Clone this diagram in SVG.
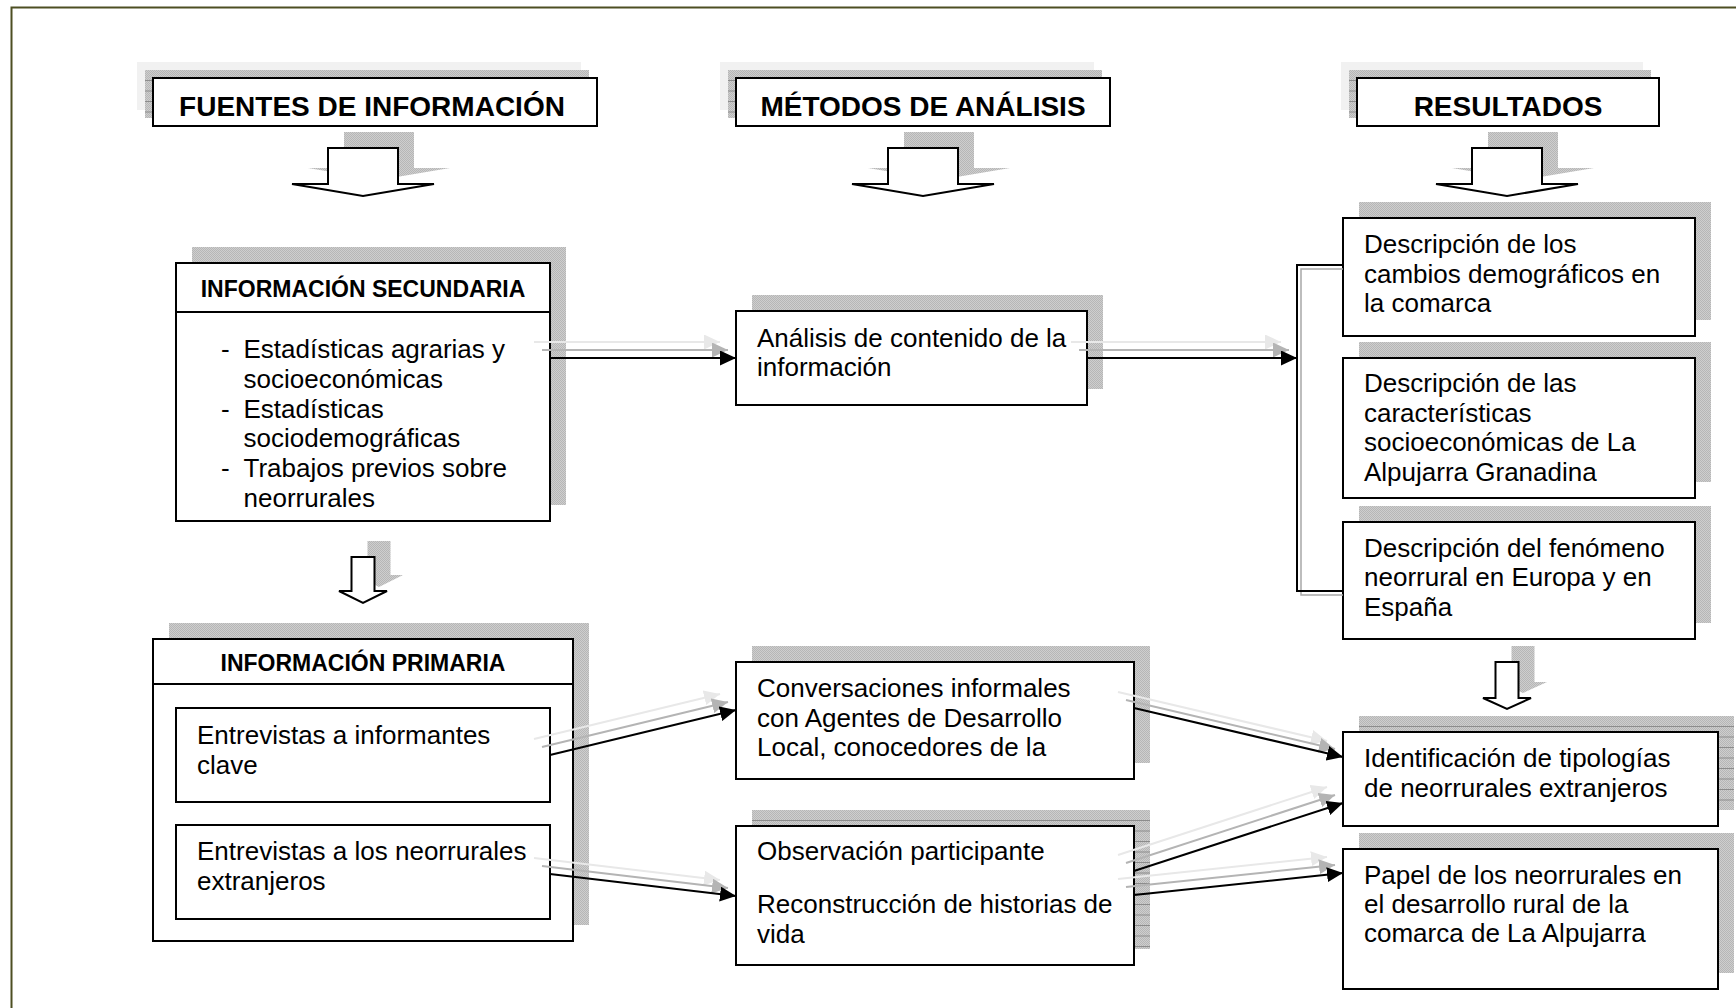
<svg xmlns="http://www.w3.org/2000/svg" width="1736" height="1008" viewBox="0 0 1736 1008">
<defs>
<pattern id="tex" width="2" height="2" patternUnits="userSpaceOnUse"><rect width="2" height="2" fill="#cecece"/><rect width="1" height="1" fill="#b6b6b6"/><rect x="1" y="1" width="1" height="1" fill="#b6b6b6"/></pattern>
<marker id="mB" markerUnits="userSpaceOnUse" markerWidth="17" markerHeight="15" refX="16" refY="7.5" orient="auto"><path d="M0,0 L16,7.5 L0,15 Z" fill="#000"/></marker>
<marker id="mG" markerUnits="userSpaceOnUse" markerWidth="17" markerHeight="15" refX="16" refY="7.5" orient="auto"><path d="M0,0 L16,7.5 L0,15 Z" fill="#b4b4b4"/></marker>
<marker id="mL" markerUnits="userSpaceOnUse" markerWidth="17" markerHeight="15" refX="16" refY="7.5" orient="auto"><path d="M0,0 L16,7.5 L0,15 Z" fill="#e8e8e8"/></marker>
</defs>
<style>
.box{fill:#fff;stroke:#000;stroke-width:2}
.sh{fill:url(#tex)}
.lt{fill:#f1f1f1}
.rule{stroke:#8c8c8c;stroke-width:1;fill:none}
.t{font-family:"Liberation Sans",Arial,sans-serif;font-size:26px;fill:#000}
.h1{font-family:"Liberation Sans",Arial,sans-serif;font-size:28px;font-weight:bold;text-anchor:middle;fill:#000}
.h2{font-family:"Liberation Sans",Arial,sans-serif;font-size:23px;font-weight:bold;text-anchor:middle;fill:#000}
.ba{fill:#fff;stroke:#000;stroke-width:2;stroke-linejoin:miter}
.cB{stroke:#000;stroke-width:2;fill:none;marker-end:url(#mB)}
.cG{stroke:#b4b4b4;stroke-width:2;fill:none;marker-end:url(#mG)}
.cL{stroke:#e8e8e8;stroke-width:2;fill:none;marker-end:url(#mL)}
</style>
<rect width="1736" height="1008" fill="#fff"/>
<rect x="11.5" y="7.5" width="1800" height="1100" fill="none" stroke="#4d4f22" stroke-width="2"/>

<!-- Header boxes -->
<g id="h-fuentes">
<rect class="lt" x="137" y="62" width="444" height="48"/>
<rect class="sh" x="145" y="70" width="444" height="48"/>
<path class="rule" d="M145,80.5h8M145,91h8M145,101.5h8M145,112h8"/>
<rect class="box" x="153" y="78" width="444" height="48"/>
<text class="h1" x="372" y="116">FUENTES DE INFORMACIÓN</text>
</g>
<g id="h-metodos">
<rect class="lt" x="720" y="62" width="374" height="48"/>
<rect class="sh" x="728" y="70" width="374" height="48"/>
<path class="rule" d="M728,80.5h8M728,91h8M728,101.5h8M728,112h8"/>
<rect class="box" x="736" y="78" width="374" height="48"/>
<text class="h1" x="923" y="116">MÉTODOS DE ANÁLISIS</text>
</g>
<g id="h-resultados">
<rect class="lt" x="1341" y="62" width="302" height="48"/>
<rect class="sh" x="1349" y="70" width="302" height="48"/>
<path class="rule" d="M1349,80.5h8M1349,91h8M1349,101.5h8M1349,112h8"/>
<rect class="box" x="1357" y="78" width="302" height="48"/>
<text class="h1" x="1508" y="116">RESULTADOS</text>
</g>

<!-- Block arrows -->
<g id="arrow-1">
<polygon class="sh" transform="translate(16,-16)" points="328,148 398,148 398,184 434,184 363,196 292,184 328,184"/>
<polygon class="ba" points="328,148 398,148 398,184 434,184 363,196 292,184 328,184"/>
</g>
<g id="arrow-2">
<polygon class="sh" transform="translate(16,-16)" points="888,148 958,148 958,184 994,184 923,196 852,184 888,184"/>
<polygon class="ba" points="888,148 958,148 958,184 994,184 923,196 852,184 888,184"/>
</g>
<g id="arrow-3">
<polygon class="sh" transform="translate(16,-16)" points="1472,148 1542,148 1542,184 1578,184 1507,196 1436,184 1472,184"/>
<polygon class="ba" points="1472,148 1542,148 1542,184 1578,184 1507,196 1436,184 1472,184"/>
</g>
<g id="arrow-4">
<polygon class="sh" transform="translate(16,-16)" points="351.5,557 374.5,557 374.5,591 387,591 363,603 339,591 351.5,591"/>
<polygon class="ba" points="351.5,557 374.5,557 374.5,591 387,591 363,603 339,591 351.5,591"/>
</g>
<g id="arrow-5">
<polygon class="sh" transform="translate(16,-16)" points="1495.5,662 1518.5,662 1518.5,698 1531,698 1507,709 1483,698 1495.5,698"/>
<polygon class="ba" points="1495.5,662 1518.5,662 1518.5,698 1531,698 1507,709 1483,698 1495.5,698"/>
</g>

<!-- Información secundaria -->
<g id="n-secundaria">
<rect class="sh" x="192" y="247" width="374" height="258"/>
<rect class="box" x="176" y="263" width="374" height="258"/>
<line x1="176" y1="312" x2="550" y2="312" stroke="#000" stroke-width="2"/>
<text class="h2" x="363" y="297">INFORMACIÓN SECUNDARIA</text>
<text class="t" x="221" y="357.5">-</text><text class="t" x="243.5" y="357.5">Estadísticas agrarias y</text>
<text class="t" x="243.5" y="387.5">socioeconómicas</text>
<text class="t" x="221" y="417.5">-</text><text class="t" x="243.5" y="417.5">Estadísticas</text>
<text class="t" x="243.5" y="447">sociodemográficas</text>
<text class="t" x="221" y="477">-</text><text class="t" x="243.5" y="477">Trabajos previos sobre</text>
<text class="t" x="243.5" y="507">neorrurales</text>
</g>

<!-- Análisis -->
<g id="n-analisis">
<rect class="sh" x="752" y="295" width="351" height="94"/>
<rect class="box" x="736" y="311" width="351" height="94"/>
<text class="t" x="757" y="347">Análisis de contenido de la</text>
<text class="t" x="757" y="376">información</text>
</g>

<!-- Results column -->
<g id="n-desc1">
<rect class="sh" x="1359" y="202" width="352" height="118"/>
<rect class="box" x="1343" y="218" width="352" height="118"/>
<text class="t" x="1364" y="253">Descripción de los</text>
<text class="t" x="1364" y="282.5">cambios demográficos en</text>
<text class="t" x="1364" y="312">la comarca</text>
</g>
<g id="n-desc2">
<rect class="sh" x="1359" y="342" width="352" height="140"/>
<rect class="box" x="1343" y="358" width="352" height="140"/>
<text class="t" x="1364" y="392">Descripción de las</text>
<text class="t" x="1364" y="421.5">características</text>
<text class="t" x="1364" y="451">socioeconómicas de La</text>
<text class="t" x="1364" y="481">Alpujarra Granadina</text>
</g>
<g id="n-desc3">
<rect class="sh" x="1359" y="506" width="352" height="117"/>
<rect class="box" x="1343" y="522" width="352" height="117"/>
<text class="t" x="1364" y="556.5">Descripción del fenómeno</text>
<text class="t" x="1364" y="586">neorrural en Europa y en</text>
<text class="t" x="1364" y="615.5">España</text>
</g>

<!-- Información primaria -->
<g id="n-primaria">
<rect class="sh" x="169" y="623" width="420" height="302"/>
<rect class="box" x="153" y="639" width="420" height="302"/>
<line x1="153" y1="684" x2="573" y2="684" stroke="#000" stroke-width="2"/>
<text class="h2" x="363" y="671">INFORMACIÓN PRIMARIA</text>
</g>
<g id="n-informantes">
<rect class="box" x="176" y="708" width="374" height="94"/>
<text class="t" x="197" y="743.5">Entrevistas a informantes</text>
<text class="t" x="197" y="773.5">clave</text>
</g>
<g id="n-neorrurales">
<rect class="box" x="176" y="825" width="374" height="94"/>
<text class="t" x="197" y="860">Entrevistas a los neorrurales</text>
<text class="t" x="197" y="889.5">extranjeros</text>
</g>

<!-- Middle lower -->
<g id="n-conversaciones">
<rect class="sh" x="752" y="646" width="398" height="117"/>
<rect class="box" x="736" y="662" width="398" height="117"/>
<text class="t" x="757" y="697">Conversaciones informales</text>
<text class="t" x="757" y="727">con Agentes de Desarrollo</text>
<text class="t" x="757" y="756">Local, conocedores de la</text>
</g>
<g id="n-observacion">
<rect class="sh" x="752" y="810" width="398" height="139"/>
<path class="rule" d="M752,820.5H1150M1134,831h16M1134,841.5h16M1134,852h16M1134,862.5h16M1134,873h16M1134,883.5h16M1134,894h16M1134,904.5h16M1134,915h16M1134,925.5h16M1134,936h16M1134,946.5h16"/>
<rect class="box" x="736" y="826" width="398" height="139"/>
<text class="t" x="757" y="860">Observación participante</text>
<text class="t" x="757" y="913">Reconstrucción de historias de</text>
<text class="t" x="757" y="943">vida</text>
</g>

<!-- Results lower -->
<g id="n-identificacion">
<rect class="sh" x="1359" y="716" width="375" height="94"/>
<path class="rule" d="M1359,726.5H1734M1718,737h16M1718,747.5h16M1718,758h16M1718,768.5h16M1718,779h16M1718,789.5h16M1718,800h16"/>
<rect class="box" x="1343" y="732" width="375" height="94"/>
<text class="t" x="1364" y="766.5">Identificación de tipologías</text>
<text class="t" x="1364" y="796.5">de neorrurales extranjeros</text>
</g>
<g id="n-papel">
<rect class="sh" x="1359" y="833" width="375" height="140"/>
<rect class="box" x="1343" y="849" width="375" height="140"/>
<text class="t" x="1364" y="884">Papel de los neorrurales en</text>
<text class="t" x="1364" y="913">el desarrollo rural de la</text>
<text class="t" x="1364" y="942">comarca de La Alpujarra</text>
</g>

<!-- Connectors -->
<g id="connectors">
<g transform="translate(-16,-16)">
<path class="cL" d="M550,358 L736,358"/>
<path class="cL" d="M1087,358 L1297,358"/>
<path class="cL" d="M550,755 L736,710"/>
<path class="cL" d="M550,874 L736,896"/>
<path class="cL" d="M1134,708 L1343,757"/>
<path class="cL" d="M1134,871 L1343,803"/>
<path class="cL" d="M1134,895 L1343,873"/>
</g>
<g transform="translate(-8,-8)">
<path class="cG" d="M550,358 L736,358"/>
<path class="cG" d="M1087,358 L1297,358"/>
<path class="cG" d="M550,755 L736,710"/>
<path class="cG" d="M550,874 L736,896"/>
<path class="cG" d="M1134,708 L1343,757"/>
<path class="cG" d="M1134,871 L1343,803"/>
<path class="cG" d="M1134,895 L1343,873"/>
</g>
<path d="M1343,269 H1301 V595 H1343" fill="none" stroke="#a8a8a8" stroke-width="1.5"/>
<path d="M1343,265 H1297 V591 H1343" fill="none" stroke="#000" stroke-width="2"/>
<path class="cB" d="M550,358 L736,358"/>
<path class="cB" d="M1087,358 L1297,358"/>
<path class="cB" d="M550,755 L736,710"/>
<path class="cB" d="M550,874 L736,896"/>
<path class="cB" d="M1134,708 L1343,757"/>
<path class="cB" d="M1134,871 L1343,803"/>
<path class="cB" d="M1134,895 L1343,873"/>
</g>
</svg>
